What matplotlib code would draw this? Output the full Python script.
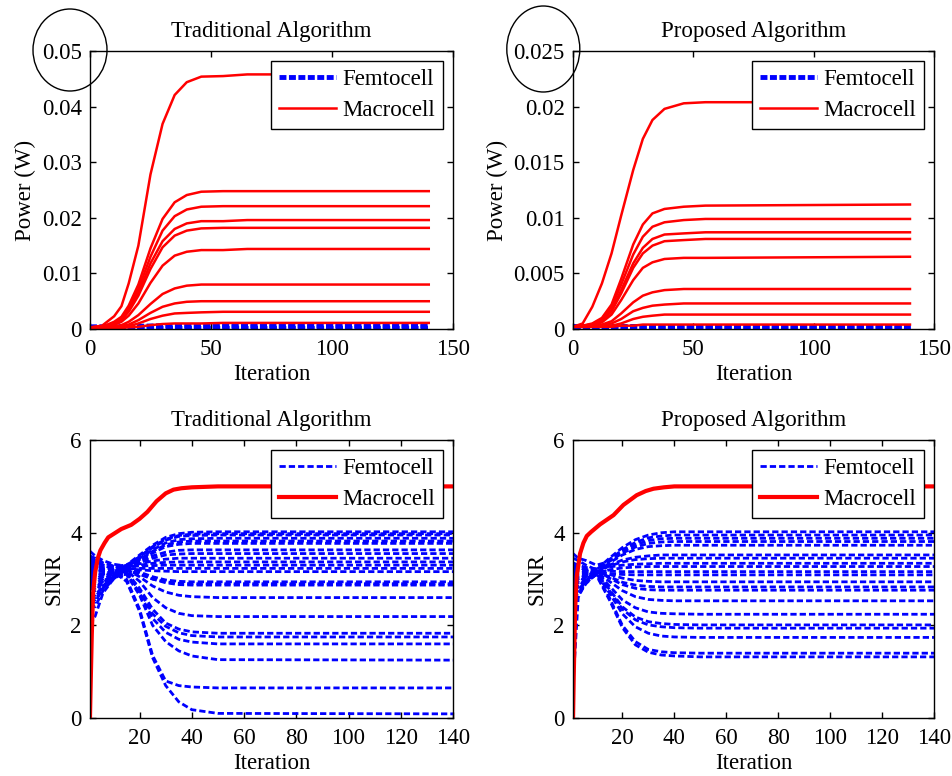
"""Power and SINR of femtocells and macrocell, traditional vs proposed algorithm."""
import matplotlib
matplotlib.use("Agg")
import matplotlib.pyplot as plt
from matplotlib.patches import Ellipse

plt.rcParams["font.family"] = ["Liberation Serif", "DejaVu Serif"]
plt.rcParams["font.size"] = 16.5
plt.rcParams["lines.scale_dashes"] = False

TITLES = ["Traditional Algorithm", "Proposed Algorithm"]

# ---- power, traditional algorithm (W) ----
IT_POW_TRAD = [0, 5, 10, 13, 16, 20, 25, 30, 35, 40, 46, 55, 65, 140]
MACRO_POW_TRAD = [
    [0.0003, 0.0006, 0.0023, 0.0041, 0.0082, 0.0150, 0.0278, 0.0369, 0.0421, 0.0444, 0.0454, 0.0455, 0.0458, 0.0458],
    [0.0003, 0.0004, 0.0013, 0.0022, 0.0042, 0.0080, 0.0145, 0.0198, 0.0228, 0.0241, 0.0247, 0.0248, 0.0248, 0.0248],
    [0.0003, 0.0004, 0.0011, 0.0020, 0.0038, 0.0072, 0.0130, 0.0177, 0.0203, 0.0215, 0.0220, 0.0221, 0.0221, 0.0221],
    [0.0003, 0.0004, 0.0010, 0.0018, 0.0034, 0.0065, 0.0118, 0.0158, 0.0180, 0.0190, 0.0194, 0.0194, 0.0196, 0.0196],
    [0.0003, 0.0004, 0.0009, 0.0016, 0.0031, 0.0060, 0.0108, 0.0147, 0.0168, 0.0177, 0.0181, 0.0182, 0.0182, 0.0182],
    [0.0003, 0.0003, 0.0007, 0.0013, 0.0024, 0.0046, 0.0083, 0.0114, 0.0132, 0.0139, 0.0142, 0.0142, 0.0144, 0.0144],
    [0.0002, 0.0003, 0.0004, 0.0007, 0.0013, 0.0025, 0.0045, 0.0063, 0.0073, 0.0078, 0.0080, 0.0080, 0.0080, 0.0080],
    [0.0002, 0.0002, 0.0003, 0.0005, 0.0008, 0.0016, 0.0029, 0.0040, 0.0046, 0.0049, 0.0050, 0.0050, 0.0050, 0.0050],
    [0.0002, 0.0002, 0.0002, 0.0003, 0.0005, 0.0010, 0.0018, 0.0024, 0.0028, 0.0029, 0.0030, 0.0031, 0.0031, 0.0031],
    [0.0002, 0.0002, 0.0002, 0.0002, 0.0003, 0.0004, 0.0007, 0.0009, 0.0010, 0.0010, 0.0010, 0.0011, 0.0011, 0.0011],
]
IT_FEMTO_POW = [0, 10, 20, 30, 40, 50, 140]
FEMTO_POW_TRAD = [
    [0.0004, 0.0004, 0.0005, 0.0006, 0.0006, 0.0006, 0.0006],
    [0.0003, 0.0003, 0.0003, 0.0004, 0.0004, 0.0004, 0.0004],
    [0.0002, 0.0002, 0.0002, 0.0002, 0.0002, 0.0002, 0.0002],
]

# ---- power, proposed algorithm (W) ----
IT_POW_PROP = [0, 4, 8, 12, 16, 20, 25, 29, 33, 38, 46, 55, 140]
MACRO_POW_PROP = [
    [0.0002, 0.0005, 0.0020, 0.0041, 0.0068, 0.0102, 0.0143, 0.0171, 0.0188, 0.0198, 0.0203, 0.0204, 0.0204],
    [0.0002, 0.0003, 0.0005, 0.0010, 0.0022, 0.0045, 0.0076, 0.0094, 0.0104, 0.0108, 0.0110, 0.0111, 0.0112],
    [0.0002, 0.0003, 0.0004, 0.0009, 0.0020, 0.0040, 0.0067, 0.0083, 0.0092, 0.0096, 0.0098, 0.0099, 0.0099],
    [0.0002, 0.0003, 0.0004, 0.0008, 0.0017, 0.0035, 0.0059, 0.0073, 0.0081, 0.0085, 0.0086, 0.0087, 0.0087],
    [0.0002, 0.0003, 0.0004, 0.0007, 0.0016, 0.0032, 0.0055, 0.0068, 0.0075, 0.0079, 0.0080, 0.0081, 0.0081],
    [0.0002, 0.0002, 0.0003, 0.0006, 0.0013, 0.0026, 0.0044, 0.0055, 0.0060, 0.0063, 0.0064, 0.0064, 0.0065],
    [0.0002, 0.0002, 0.0002, 0.0004, 0.0007, 0.0014, 0.0024, 0.0030, 0.0033, 0.0035, 0.0036, 0.0036, 0.0036],
    [0.0002, 0.0002, 0.0002, 0.0003, 0.0005, 0.0009, 0.0016, 0.0019, 0.0021, 0.0022, 0.0023, 0.0023, 0.0023],
    [0.0002, 0.0002, 0.0002, 0.0002, 0.0003, 0.0005, 0.0009, 0.0011, 0.0012, 0.0013, 0.0013, 0.0013, 0.0013],
    [0.0002, 0.0002, 0.0002, 0.0002, 0.0002, 0.0003, 0.0003, 0.0004, 0.0004, 0.0004, 0.0004, 0.0004, 0.0004],
]
FEMTO_POW_PROP = [
    [0.0003, 0.0003, 0.0003, 0.0003, 0.0003, 0.0003, 0.0003],
    [0.0002, 0.0002, 0.0002, 0.0002, 0.0002, 0.0002, 0.0002],
    [0.0001, 0.0001, 0.0001, 0.0001, 0.0001, 0.0001, 0.0001],
]

# ---- SINR ----
IT_FEMTO_SINR = [1, 3, 6, 10, 15, 20, 25, 30, 35, 40, 50, 140]
FEMTO_SINR_TRAD = [
    [3.00, 2.95, 3.05, 3.15, 3.30, 3.52, 3.73, 3.90, 3.98, 4.01, 4.02, 4.02],
    [2.85, 2.80, 2.95, 3.10, 3.28, 3.48, 3.70, 3.86, 3.94, 3.97, 3.98, 3.98],
    [3.20, 3.15, 3.18, 3.22, 3.30, 3.48, 3.68, 3.84, 3.92, 3.94, 3.95, 3.95],
    [2.60, 2.55, 2.80, 3.05, 3.25, 3.45, 3.63, 3.78, 3.85, 3.87, 3.88, 3.88],
    [3.40, 3.35, 3.30, 3.28, 3.30, 3.42, 3.60, 3.74, 3.80, 3.82, 3.82, 3.82],
    [2.45, 2.40, 2.75, 3.00, 3.22, 3.40, 3.56, 3.70, 3.75, 3.77, 3.77, 3.77],
    [3.10, 3.05, 3.10, 3.18, 3.28, 3.38, 3.50, 3.58, 3.62, 3.63, 3.63, 3.63],
    [2.70, 2.65, 2.85, 3.05, 3.25, 3.35, 3.45, 3.52, 3.54, 3.55, 3.55, 3.55],
    [3.30, 3.25, 3.22, 3.22, 3.27, 3.33, 3.39, 3.43, 3.45, 3.45, 3.45, 3.45],
    [2.95, 2.90, 3.00, 3.12, 3.25, 3.30, 3.34, 3.36, 3.37, 3.37, 3.37, 3.37],
    [3.60, 3.50, 3.40, 3.32, 3.28, 3.28, 3.29, 3.30, 3.30, 3.30, 3.30, 3.30],
    [2.55, 2.50, 2.80, 3.05, 3.22, 3.23, 3.23, 3.23, 3.23, 3.23, 3.23, 3.23],
    [3.35, 3.30, 3.25, 3.22, 3.22, 3.20, 3.18, 3.17, 3.16, 3.16, 3.16, 3.16],
    [3.05, 3.00, 3.08, 3.15, 3.22, 3.15, 3.05, 2.98, 2.95, 2.94, 2.94, 2.94],
    [2.00, 2.20, 2.70, 3.00, 3.18, 3.10, 3.00, 2.94, 2.91, 2.90, 2.90, 2.90],
    [3.50, 3.45, 3.35, 3.28, 3.22, 3.12, 3.00, 2.92, 2.88, 2.87, 2.87, 2.87],
    [3.15, 3.10, 3.12, 3.17, 3.20, 3.05, 2.85, 2.72, 2.65, 2.62, 2.60, 2.60],
    [2.80, 2.75, 2.92, 3.08, 3.18, 2.95, 2.60, 2.38, 2.26, 2.21, 2.19, 2.19],
    [3.25, 3.20, 3.18, 3.18, 3.15, 2.80, 2.35, 2.05, 1.92, 1.86, 1.83, 1.83],
    [2.65, 2.60, 2.85, 3.05, 3.12, 2.75, 2.25, 1.98, 1.84, 1.78, 1.75, 1.75],
    [3.45, 3.40, 3.30, 3.22, 3.12, 2.70, 2.15, 1.85, 1.70, 1.64, 1.60, 1.60],
    [2.90, 2.85, 2.95, 3.08, 3.10, 2.65, 2.00, 1.65, 1.45, 1.34, 1.26, 1.25],
    [3.15, 3.10, 3.12, 3.12, 3.00, 2.35, 1.35, 0.80, 0.70, 0.67, 0.65, 0.65],
    [3.25, 3.20, 3.18, 3.15, 2.95, 2.30, 1.30, 0.70, 0.35, 0.18, 0.10, 0.09],
]
FEMTO_SINR_PROP = [
    [2.95, 2.95, 3.05, 3.20, 3.45, 3.68, 3.85, 3.95, 4.00, 4.02, 4.02, 4.02],
    [3.20, 3.15, 3.15, 3.22, 3.42, 3.63, 3.79, 3.89, 3.93, 3.95, 3.95, 3.95],
    [2.70, 2.75, 2.95, 3.15, 3.40, 3.60, 3.74, 3.83, 3.87, 3.88, 3.88, 3.88],
    [3.55, 3.45, 3.40, 3.30, 3.38, 3.56, 3.69, 3.77, 3.80, 3.81, 3.81, 3.81],
    [2.55, 2.65, 2.90, 3.12, 3.35, 3.52, 3.64, 3.70, 3.72, 3.73, 3.73, 3.73],
    [3.05, 3.05, 3.10, 3.20, 3.30, 3.41, 3.47, 3.50, 3.52, 3.52, 3.52, 3.52],
    [2.85, 2.85, 3.00, 3.15, 3.28, 3.37, 3.42, 3.44, 3.45, 3.45, 3.45, 3.45],
    [3.35, 3.30, 3.25, 3.22, 3.26, 3.30, 3.32, 3.33, 3.34, 3.34, 3.34, 3.34],
    [0.70, 2.60, 2.95, 3.10, 3.20, 3.24, 3.26, 3.27, 3.27, 3.27, 3.27, 3.27],
    [3.10, 3.08, 3.12, 3.18, 3.17, 3.16, 3.16, 3.16, 3.16, 3.16, 3.16, 3.16],
    [2.60, 2.70, 2.92, 3.10, 3.12, 3.10, 3.09, 3.09, 3.09, 3.09, 3.09, 3.09],
    [3.25, 3.22, 3.20, 3.18, 3.10, 3.02, 2.97, 2.95, 2.94, 2.94, 2.94, 2.94],
    [2.80, 2.82, 3.00, 3.15, 3.05, 2.93, 2.87, 2.84, 2.83, 2.83, 2.83, 2.83],
    [3.45, 3.40, 3.30, 3.20, 3.02, 2.88, 2.80, 2.77, 2.76, 2.76, 2.76, 2.76],
    [3.00, 3.00, 3.08, 3.15, 2.95, 2.75, 2.62, 2.56, 2.54, 2.53, 2.53, 2.53],
    [3.15, 3.12, 3.15, 3.15, 2.85, 2.55, 2.38, 2.29, 2.26, 2.25, 2.24, 2.24],
    [2.65, 2.75, 2.98, 3.12, 2.78, 2.40, 2.18, 2.08, 2.04, 2.02, 2.01, 2.01],
    [3.30, 3.25, 3.20, 3.14, 2.75, 2.35, 2.12, 2.01, 1.97, 1.95, 1.94, 1.94],
    [2.90, 2.92, 3.05, 3.12, 2.70, 2.25, 1.97, 1.83, 1.77, 1.75, 1.74, 1.74],
    [3.20, 3.18, 3.18, 3.10, 2.60, 2.00, 1.65, 1.48, 1.43, 1.41, 1.40, 1.40],
    [3.00, 3.02, 3.08, 3.08, 2.55, 1.95, 1.58, 1.42, 1.36, 1.34, 1.32, 1.32],
]

IT_MACRO_SINR_TRAD = [1, 1.3, 1.7, 2.2, 3, 4, 5, 6.6, 8, 10.5, 13, 16.8, 20, 23, 26.5, 30, 33, 36, 40, 50, 140]
MACRO_SINR_TRAD = [0, 0.8, 1.8, 2.7, 3.15, 3.45, 3.62, 3.78, 3.90, 3.99, 4.08, 4.17,
                   4.30, 4.45, 4.68, 4.85, 4.93, 4.96, 4.98, 5.0, 5.0]
IT_MACRO_SINR_PROP = [1, 1.3, 1.8, 2.4, 3.7, 5, 6.3, 8, 11.4, 14, 16.6, 20.4, 25.5, 29, 32, 36, 40, 50, 140]
MACRO_SINR_PROP = [0, 1.0, 2.33, 3.05, 3.55, 3.78, 3.93, 4.02, 4.18, 4.28, 4.38, 4.60,
                   4.81, 4.90, 4.95, 4.98, 5.0, 5.0, 5.0]

POW_YTICKS = [[0, 0.01, 0.02, 0.03, 0.04, 0.05], [0, 0.005, 0.01, 0.015, 0.02, 0.025]]
POW_YLABELS = [["0", "0.01", "0.02", "0.03", "0.04", "0.05"],
               ["0", "0.005", "0.01", "0.015", "0.02", "0.025"]]


def style_axes(ax):
    ax.tick_params(direction="in", length=4, width=1, top=True, right=True)
    ax.tick_params(axis="x", pad=7)
    ax.tick_params(axis="y", pad=6)
    for sp in ax.spines.values():
        sp.set_linewidth(1.0)


def add_legend(ax, femto, macro):
    leg = ax.legend([femto, macro], ["Femtocell", "Macrocell"], loc="upper right",
                    fancybox=False, framealpha=1, edgecolor="black", handlelength=2.5,
                    handletextpad=0.25, borderaxespad=0.45, labelspacing=0.4,
                    borderpad=0.35)
    leg.get_frame().set_linewidth(1.0)


def power_plot(ax, it_macro, macro, femto, title, yticks, ylabels):
    femto_line = None
    for row in femto:
        (femto_line,) = ax.plot(IT_FEMTO_POW, row, color="blue", lw=3.5,
                                dashes=(5, 1.8))
    macro_line = None
    for row in macro:
        (macro_line,) = ax.plot(it_macro, row, color="red", lw=1.8)
    ax.set_xlim(0, 150)
    ax.set_ylim(0, yticks[-1])
    ax.set_xticks([0, 50, 100, 150])
    ax.set_yticks(yticks)
    ax.set_yticklabels(ylabels)
    ax.set_title(title, fontsize=16.5, pad=10)
    ax.set_xlabel("Iteration", labelpad=3)
    ax.set_ylabel("Power (W)", labelpad=4)
    style_axes(ax)
    add_legend(ax, femto_line, macro_line)


def sinr_plot(ax, femto, it_macro, macro, title):
    femto_line = None
    for row in femto:
        (femto_line,) = ax.plot(IT_FEMTO_SINR, row, color="blue", lw=2,
                                dashes=(4.5, 2.2))
    (macro_line,) = ax.plot(it_macro, macro, color="red", lw=3)
    ax.set_xlim(1, 140)
    ax.set_ylim(0, 6)
    ax.set_xticks([20, 40, 60, 80, 100, 120, 140])
    ax.set_yticks([0, 2, 4, 6])
    ax.set_title(title, fontsize=16.5, pad=10)
    ax.set_xlabel("Iteration", labelpad=3)
    ax.set_ylabel("SINR", labelpad=4)
    style_axes(ax)
    add_legend(ax, femto_line, macro_line)


fig = plt.figure(figsize=(9.53, 7.76), dpi=100)
ax1 = fig.add_axes([0.0944, 0.576, 0.3809, 0.3582])
ax2 = fig.add_axes([0.6013, 0.576, 0.3788, 0.3582])
ax3 = fig.add_axes([0.0944, 0.0747, 0.3809, 0.3582])
ax4 = fig.add_axes([0.6013, 0.0747, 0.3788, 0.3582])

power_plot(ax1, IT_POW_TRAD, MACRO_POW_TRAD, FEMTO_POW_TRAD, TITLES[0],
           POW_YTICKS[0], POW_YLABELS[0])
power_plot(ax2, IT_POW_PROP, MACRO_POW_PROP, FEMTO_POW_PROP, TITLES[1],
           POW_YTICKS[1], POW_YLABELS[1])
sinr_plot(ax3, FEMTO_SINR_TRAD, IT_MACRO_SINR_TRAD, MACRO_SINR_TRAD, TITLES[0])
sinr_plot(ax4, FEMTO_SINR_PROP, IT_MACRO_SINR_PROP, MACRO_SINR_PROP, TITLES[1])

# circles drawn round the top tick labels
fig.add_artist(Ellipse((0.70, 7.26), 0.74, 0.82, transform=fig.dpi_scale_trans,
                       fill=False, edgecolor="black", lw=1))
fig.add_artist(Ellipse((5.433, 7.27), 0.73, 0.86, transform=fig.dpi_scale_trans,
                       fill=False, edgecolor="black", lw=1))

fig.savefig("out.png", dpi=100, facecolor="white")
